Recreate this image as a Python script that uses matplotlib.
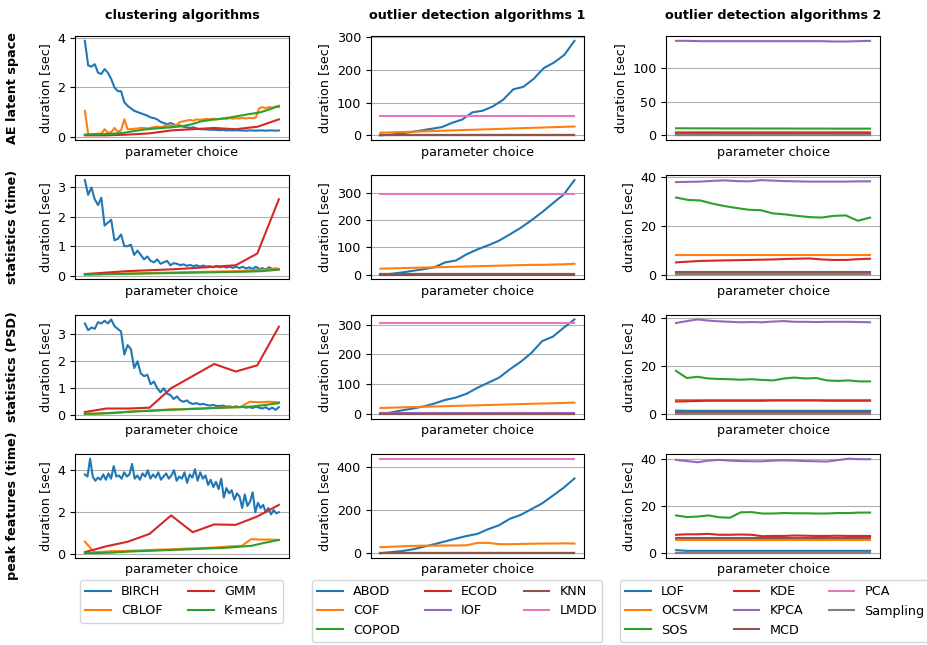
import numpy as np
import matplotlib.pyplot as plt

plt.rcParams["font.size"] = 9.2

# ---- clustering algorithms ----
clust_names = ["BIRCH", "CBLOF", "GMM", "K-means"]
clust_colors = ["C0", "C1", "C3", "C2"]

birch_ae = [3.9, 2.9, 2.85, 2.95, 2.6, 2.55, 2.75, 2.6, 2.35, 2.0, 1.85, 1.85, 1.4, 1.25, 1.15,
            1.05, 1.0, 0.95, 0.9, 0.85, 0.78, 0.75, 0.7, 0.6, 0.55, 0.5, 0.55, 0.5, 0.45, 0.45,
            0.4, 0.38, 0.35, 0.38, 0.33, 0.3, 0.3, 0.29, 0.28, 0.28, 0.27, 0.26, 0.27, 0.25, 0.26,
            0.25, 0.26, 0.25, 0.25, 0.24, 0.25, 0.25, 0.24, 0.25, 0.25, 0.24, 0.25, 0.25, 0.24, 0.25]
cblof_ae = [1.05, 0.1, 0.1, 0.1, 0.12, 0.12, 0.3, 0.15, 0.18, 0.35, 0.2, 0.25, 0.7, 0.3, 0.3,
            0.32, 0.33, 0.35, 0.35, 0.33, 0.36, 0.38, 0.4, 0.38, 0.42, 0.45, 0.43, 0.45, 0.48, 0.6,
            0.62, 0.65, 0.68, 0.65, 0.7, 0.68, 0.7, 0.72, 0.7, 0.73, 0.7, 0.72, 0.74, 0.72, 0.75,
            0.73, 0.75, 0.74, 0.76, 0.74, 0.76, 0.75, 0.78, 1.15, 1.2, 1.15, 1.2, 1.18, 1.22, 1.2]
gmm_ae = [0.05, 0.05, 0.08, 0.13, 0.25, 0.3, 0.35, 0.3, 0.4, 0.7]
kmeans_ae = [0.08, 0.09, 0.1, 0.12, 0.15, 0.22, 0.28, 0.32, 0.35, 0.38, 0.42, 0.5, 0.62, 0.68,
             0.72, 0.78, 0.85, 0.92, 0.98, 1.1, 1.25]

birch_st = [3.25, 2.75, 3.0, 2.6, 2.4, 2.65, 1.7, 1.8, 1.9, 1.2, 1.25, 1.4, 1.0, 1.0, 1.05,
            0.7, 0.85, 0.7, 0.55, 0.65, 0.5, 0.45, 0.55, 0.4, 0.45, 0.5, 0.35, 0.42, 0.4, 0.35,
            0.38, 0.33, 0.36, 0.32, 0.35, 0.3, 0.34, 0.3, 0.32, 0.28, 0.33, 0.28, 0.31, 0.27, 0.3,
            0.26, 0.3, 0.25, 0.3, 0.24, 0.28, 0.22, 0.3, 0.22, 0.25, 0.2, 0.28, 0.22, 0.24, 0.22]
cblof_st = [0.04, 0.05, 0.06, 0.07, 0.08, 0.09, 0.1, 0.11, 0.12, 0.13, 0.14, 0.15, 0.18, 0.2, 0.22]
gmm_st = [0.05, 0.1, 0.15, 0.18, 0.21, 0.25, 0.3, 0.35, 0.75, 2.6]
kmeans_st = [0.03, 0.04, 0.05, 0.06, 0.07, 0.08, 0.09, 0.1, 0.11, 0.12, 0.13, 0.15, 0.2]

birch_psd = [3.4, 3.15, 3.25, 3.2, 3.45, 3.4, 3.5, 3.4, 3.55, 3.3, 3.2, 3.1, 2.25, 2.6, 2.45,
             1.75, 2.0, 1.55, 1.45, 1.5, 1.15, 1.25, 1.0, 0.85, 1.0, 0.8, 0.75, 0.6, 0.7, 0.55,
             0.5, 0.55, 0.45, 0.42, 0.45, 0.4, 0.42, 0.38, 0.36, 0.38, 0.35, 0.34, 0.36, 0.32, 0.33,
             0.3, 0.33, 0.3, 0.32, 0.28, 0.3, 0.27, 0.32, 0.28, 0.25, 0.3, 0.22, 0.28, 0.2, 0.3]
cblof_psd = [0.05, 0.06, 0.08, 0.1, 0.12, 0.15, 0.16, 0.18, 0.2, 0.22, 0.22, 0.24, 0.25, 0.27,
             0.28, 0.3, 0.3, 0.5, 0.48, 0.5, 0.48]
gmm_psd = [0.12, 0.25, 0.25, 0.28, 1.0, 1.45, 1.9, 1.62, 1.85, 3.28]
kmeans_psd = [0.05, 0.06, 0.08, 0.12, 0.15, 0.17, 0.2, 0.22, 0.24, 0.26, 0.28, 0.3, 0.32, 0.38, 0.45]

birch_pk = [3.8, 3.7, 4.55, 3.7, 3.5, 3.65, 3.55, 3.8, 3.55, 3.85, 3.6, 4.2, 3.7, 3.75, 3.6,
            3.9, 3.7, 3.8, 4.3, 3.6, 3.75, 3.55, 3.85, 3.7, 4.0, 3.6, 3.8, 3.65, 3.9, 3.55,
            3.7, 3.85, 3.6, 3.75, 4.0, 3.5, 3.7, 3.6, 3.9, 3.4, 3.8, 3.65, 4.05, 3.5, 3.9,
            3.6, 3.75, 3.3, 3.55, 3.2, 3.45, 3.1, 3.6, 2.7, 3.15, 2.9, 3.05, 2.6, 2.9, 2.75,
            2.2, 2.85, 2.3, 2.5, 2.95, 2.0, 2.45, 2.2, 2.35, 2.0, 2.2, 1.9, 2.1, 1.95, 2.0]
cblof_pk = [0.6, 0.1, 0.12, 0.15, 0.15, 0.17, 0.18, 0.2, 0.22, 0.23, 0.25, 0.27, 0.28, 0.3,
            0.32, 0.35, 0.38, 0.4, 0.72, 0.7, 0.7, 0.68]
gmm_pk = [0.1, 0.38, 0.6, 0.97, 1.85, 1.05, 1.42, 1.4, 1.8, 2.35]
kmeans_pk = [0.05, 0.06, 0.08, 0.12, 0.15, 0.17, 0.2, 0.22, 0.25, 0.28, 0.3, 0.35, 0.4, 0.55, 0.68]

# ---- outlier detection algorithms 1 ----
od1_names = ["ABOD", "COF", "COPOD", "ECOD", "IOF", "KNN", "LMDD"]

abod_ae = [0, 2, 6, 10, 15, 20, 25, 38, 48, 70, 75, 88, 108, 140, 148, 172, 205, 222, 245, 288]
cof_ae = [8, 9, 10, 11, 12, 13, 14, 15, 16, 17, 18, 19, 20, 21, 22, 23, 24, 25, 26, 27]
copod_ae = [0.5] * 20
ecod_ae = [0.4] * 20
iof_ae = [1.5] * 20
knn_ae = [0.8] * 20
lmdd_ae = [60] * 20

abod_st = [0, 3, 8, 14, 20, 27, 45, 52, 75, 93, 108, 125, 148, 172, 200, 230, 263, 295, 348]
cof_st = [22, 23, 24, 25, 26, 27, 28, 29, 30, 31, 32, 33, 34, 35, 36, 36, 37, 38, 40]
copod_st = [0.5] * 19
ecod_st = [0.4] * 19
iof_st = [1.5] * 19
knn_st = [0.8] * 19
lmdd_st = [298] * 19

abod_psd = [0, 5, 12, 18, 25, 35, 47, 55, 68, 88, 105, 122, 150, 175, 205, 245, 260, 290, 318]
cof_psd = [20, 21, 22, 23, 24, 25, 26, 27, 28, 29, 30, 31, 32, 33, 34, 35, 36, 37, 38]
copod_psd = [0.5] * 19
ecod_psd = [0.4] * 19
iof_psd = [1.5] * 19
knn_psd = [0.8] * 19
lmdd_psd = [305] * 19

abod_pk = [0, 5, 10, 18, 30, 42, 55, 68, 80, 90, 112, 130, 160, 178, 205, 232, 268, 305, 348]
cof_pk = [28, 30, 32, 34, 35, 35, 36, 36, 37, 48, 48, 42, 42, 43, 44, 45, 45, 46, 45]
copod_pk = [0.5] * 19
ecod_pk = [0.4] * 19
iof_pk = [1.5] * 19
knn_pk = [0.8] * 19
lmdd_pk = [440] * 19

# ---- outlier detection algorithms 2 ----
od2_names = ["LOF", "OCSVM", "SOS", "KDE", "KPCA", "MCD", "PCA", "Sampling"]

lof_ae = [1.0] * 17
ocsvm_ae = [5.0] * 17
sos_ae = [10.5, 10.5, 10.4, 10.4, 10.3, 10.3, 10.3, 10.2, 10.2, 10.2, 10.1, 10.1, 10.1, 10.0, 10.0, 10.0, 10.0]
kde_ae = [3.5] * 17
kpca_ae = [141, 141, 140.5, 140.5, 140.5, 140.5, 140.5, 140.5, 140.5, 140.5, 140.5, 140.5, 140.5, 140, 140, 140.5, 141]
mcd_ae = [2.0] * 17
pca_ae = [0.1] * 17
sampling_ae = [0.0] * 17

lof_st = [0.2] * 17
ocsvm_st = [8.0] * 17
sos_st = [31.5, 30.5, 30.3, 29.0, 28.0, 27.2, 26.5, 26.3, 25.0, 24.6, 24.0, 23.5, 23.3, 24.0, 24.2, 22.0, 23.3]
kde_st = [5.0, 5.3, 5.6, 5.7, 5.8, 5.9, 6.0, 6.1, 6.2, 6.4, 6.5, 6.6, 6.2, 6.0, 6.0, 6.3, 6.5]
kpca_st = [37.8, 37.9, 38.0, 38.3, 38.5, 38.2, 38.1, 38.6, 38.4, 38.2, 38.1, 38.0, 38.0, 38.0, 38.0, 38.1, 38.1]
mcd_st = [1.2] * 17
pca_st = [0.0] * 17
sampling_st = [0.1] * 17

lof_psd = [1.4, 1.3, 1.3, 1.3, 1.3, 1.3, 1.3, 1.3, 1.3, 1.3, 1.3, 1.3, 1.3, 1.3, 1.3, 1.3, 1.3, 1.3, 1.3]
ocsvm_psd = [5.7] * 19
sos_psd = [18.0, 15.0, 15.5, 14.8, 14.6, 14.5, 14.3, 14.5, 14.2, 14.0, 14.8, 15.2, 14.8, 15.0, 14.0, 13.8, 14.0, 13.6, 13.6]
kde_psd = [5.2, 5.3, 5.4, 5.5, 5.5, 5.5, 5.5, 5.5, 5.5, 5.6, 5.6, 5.6, 5.6, 5.6, 5.5, 5.5, 5.5, 5.5, 5.5]
kpca_psd = [38.0, 38.8, 39.5, 39.0, 38.7, 38.5, 38.3, 38.4, 38.3, 38.6, 38.8, 38.5, 38.5, 38.4, 38.5, 38.5, 38.5, 38.4, 38.3]
mcd_psd = [1.0] * 19
pca_psd = [0.0] * 19
sampling_psd = [0.1] * 19

lof_pk = [1.3, 1.0, 1.0, 1.0, 1.0, 1.0, 1.0, 1.0, 1.0, 1.0, 1.0, 1.0, 1.0, 1.0, 1.0, 1.0, 1.0, 1.0, 1.0]
ocsvm_pk = [5.5] * 19
sos_pk = [16.0, 15.3, 15.5, 16.0, 15.2, 15.0, 17.3, 17.4, 16.8, 16.8, 17.0, 16.9, 16.9, 16.8, 16.8, 17.0, 17.0, 17.2, 17.2]
kde_pk = [7.8, 8.0, 8.0, 8.2, 7.8, 7.8, 7.9, 7.8, 7.2, 7.3, 7.3, 7.5, 7.4, 7.3, 7.3, 7.4, 7.3, 7.3, 7.3]
kpca_pk = [39.5, 39.0, 38.5, 39.2, 39.5, 39.2, 39.0, 38.9, 38.9, 39.2, 39.3, 39.2, 39.0, 38.9, 38.8, 39.4, 40.0, 39.8, 39.8]
mcd_pk = [6.5] * 19
pca_pk = [0.0] * 19
sampling_pk = [0.1] * 19

row_titles = ["AE latent space", "statistics (time)", "statistics (PSD)", "peak features (time)"]
col_titles = ["clustering algorithms", "outlier detection algorithms 1", "outlier detection algorithms 2"]

clust_rows = [
    [birch_ae, cblof_ae, gmm_ae, kmeans_ae],
    [birch_st, cblof_st, gmm_st, kmeans_st],
    [birch_psd, cblof_psd, gmm_psd, kmeans_psd],
    [birch_pk, cblof_pk, gmm_pk, kmeans_pk],
]
od1_rows = [
    [abod_ae, cof_ae, copod_ae, ecod_ae, iof_ae, knn_ae, lmdd_ae],
    [abod_st, cof_st, copod_st, ecod_st, iof_st, knn_st, lmdd_st],
    [abod_psd, cof_psd, copod_psd, ecod_psd, iof_psd, knn_psd, lmdd_psd],
    [abod_pk, cof_pk, copod_pk, ecod_pk, iof_pk, knn_pk, lmdd_pk],
]
od2_rows = [
    [lof_ae, ocsvm_ae, sos_ae, kde_ae, kpca_ae, mcd_ae, pca_ae, sampling_ae],
    [lof_st, ocsvm_st, sos_st, kde_st, kpca_st, mcd_st, pca_st, sampling_st],
    [lof_psd, ocsvm_psd, sos_psd, kde_psd, kpca_psd, mcd_psd, pca_psd, sampling_psd],
    [lof_pk, ocsvm_pk, sos_pk, kde_pk, kpca_pk, mcd_pk, pca_pk, sampling_pk],
]

columns = [
    (clust_names, clust_colors, clust_rows),
    (od1_names, ["C%d" % i for i in range(7)], od1_rows),
    (od2_names, ["C%d" % i for i in range(8)], od2_rows),
]

fig, axes = plt.subplots(4, 3, figsize=(9.28, 6.45), dpi=100)
fig.subplots_adjust(left=0.081, right=0.948, top=0.944, bottom=0.135,
                    hspace=0.34, wspace=0.385)

for c, (names, colors, rows) in enumerate(columns):
    for r, series in enumerate(rows):
        ax = axes[r, c]
        for name, color, vals in zip(names, colors, series):
            x = np.linspace(0, 1, len(vals))
            ax.plot(x, vals, color=color, label=name, lw=1.5)
        ax.set_xticks([])
        ax.grid(axis="y")
        ax.set_axisbelow(True)
        ax.set_ylabel("duration [sec]")
        ax.set_xlabel("parameter choice")
        if r == 0:
            ax.set_title(col_titles[c], fontweight="bold", fontsize=9.2, pad=12)

# row labels
for r, title in enumerate(row_titles):
    pos = axes[r, 0].get_position()
    fig.text(13 / 928, (pos.y0 + pos.y1) / 2, title, rotation=90, ha="center",
             va="center", fontweight="bold", fontsize=9.2)

# legends below each column
legend_specs = [(80, 2), (312, 3), (620, 3)]
for c, (x0, ncol) in enumerate(legend_specs):
    h, l = axes[3, c].get_legend_handles_labels()
    fig.legend(h, l, loc="upper left", bbox_to_anchor=(x0 / 928, 1 - 580 / 645),
               ncol=ncol, fontsize=9.2, borderaxespad=0)

fig.savefig("out.png", dpi=100)
